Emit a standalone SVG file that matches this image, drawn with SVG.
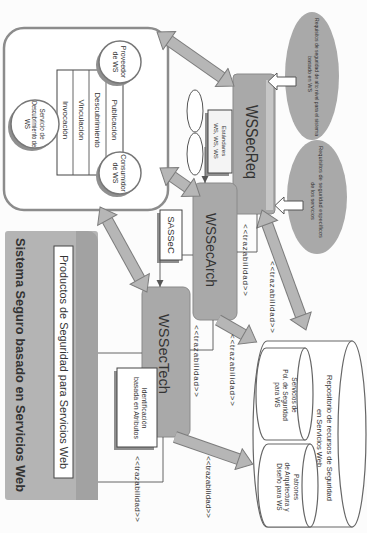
<svg xmlns="http://www.w3.org/2000/svg" width="367" height="533" viewBox="0 0 367 533">
<defs>
<style>
.t{font-family:"Liberation Sans",Arial,sans-serif;fill:#333;text-anchor:middle;dominant-baseline:central}
.box{fill:#fff;stroke:#444;stroke-width:1}
.sh{fill:#8f8f8f}
.ws{fill:#a9a9a9;stroke:#8a8a8a;stroke-width:1}
.thin{fill:none;stroke:#555;stroke-width:0.9}
.cyl{fill:#fff;stroke:#666;stroke-width:1.2}
.under{stroke:#7c7c7c;stroke-width:12;fill:none}
.over{stroke:#b6b6b6;stroke-width:10;fill:none}
.hol{fill:#fff;stroke:#555;stroke-width:1}
</style>
<marker id="bh" markerUnits="userSpaceOnUse" markerWidth="18" markerHeight="24" refX="1" refY="12" orient="auto-start-reverse" viewBox="0 0 18 24">
<path d="M1,1 L16,12 L1,23 z" fill="#b6b6b6" stroke="#7c7c7c" stroke-width="1"/>
</marker>
<marker id="sa" markerUnits="userSpaceOnUse" markerWidth="8" markerHeight="8" refX="7" refY="4" orient="auto" viewBox="0 0 8 8">
<path d="M0,0.5 L7,4 L0,7.5 z" fill="#555"/>
</marker>
</defs>
<rect width="367" height="533" fill="#fcfcfc"/>

<g id="sistema">
<rect x="5" y="231" width="93" height="269" rx="3" fill="#b4b4b4"/>
<path d="M76,231 H88 A10,10 0 0 1 98,241 V500 H76 Z" fill="#a2a2a2"/>
<text class="t" font-size="12" font-weight="bold" textLength="254" lengthAdjust="spacingAndGlyphs" transform="translate(20,365) rotate(90)">Sistema Seguro basado en Servicios Web</text>
</g>
<g id="productos">
<rect x="54" y="246" width="19" height="232" class="box"/>
<text class="t" font-size="10" textLength="214" lengthAdjust="spacingAndGlyphs" transform="translate(63.5,362) rotate(90)">Productos de Seguridad para Servicios Web</text>
</g>

<g id="entorno">
<rect x="4" y="28" width="164" height="182" rx="20" fill="#fff" stroke="#8c8c8c" stroke-width="2.5"/>
</g>
<g id="operaciones">
<rect x="57" y="70" width="66" height="105" class="box"/>
<line x1="73" y1="70" x2="73" y2="175" class="thin"/>
<line x1="89" y1="70" x2="89" y2="175" class="thin"/>
<line x1="106" y1="70" x2="106" y2="175" class="thin"/>
<text class="t" font-size="8" transform="translate(114.5,120) rotate(90)">Publicación</text>
<text class="t" font-size="8" transform="translate(97.5,120) rotate(90)">Descubrimiento</text>
<text class="t" font-size="8" transform="translate(81,120) rotate(90)">Vinculación</text>
<text class="t" font-size="8" transform="translate(65,120) rotate(90)">Invocación</text>
</g>
<g id="proveedor">
<circle cx="117" cy="65" r="21" class="sh"/>
<circle cx="120" cy="62" r="21" fill="#fff" stroke="#777" stroke-width="1.5"/>
<text class="t" font-size="7" transform="translate(120,62) rotate(90)"><tspan x="0" y="-4">Proveedor</tspan><tspan x="0" y="4">de WS</tspan></text>
</g>
<g id="consumidor">
<circle cx="117" cy="176" r="21" class="sh"/>
<circle cx="120" cy="173" r="21" fill="#fff" stroke="#777" stroke-width="1.5"/>
<text class="t" font-size="7" transform="translate(120,173) rotate(90)"><tspan x="0" y="-4">Consumidor</tspan><tspan x="0" y="4">de WS</tspan></text>
</g>
<g id="descubrimiento">
<circle cx="32" cy="127" r="24" class="sh"/>
<circle cx="35" cy="124" r="24" fill="#fff" stroke="#777" stroke-width="1.5"/>
<text class="t" font-size="6.3" transform="translate(35,124) rotate(90)"><tspan x="0" y="-7.5">Servicio de</tspan><tspan x="0" y="0" textLength="46" lengthAdjust="spacingAndGlyphs">Descubrimiento de</tspan><tspan x="0" y="7.5">WS</tspan></text>
</g>

<g id="politicas">
<ellipse cx="195" cy="111" rx="8" ry="21" fill="#fff" stroke="#555"/>
<ellipse cx="195" cy="154" rx="8" ry="21" fill="#fff" stroke="#555"/>
</g>
<g id="estandares">
<rect x="205" y="113" width="24" height="63" class="sh"/>
<rect x="208" y="110" width="24" height="63" fill="#f4f4f4" stroke="#444"/>
<text class="t" font-size="6" transform="translate(220,141) rotate(90)"><tspan x="0" y="-4">Estándares</tspan><tspan x="0" y="4">WS, WS, WS</tspan></text>
</g>

<g id="req1">
<ellipse cx="312" cy="76" rx="27" ry="64" fill="#a9a9a9"/>
<text class="t" font-size="5.5" textLength="118" lengthAdjust="spacingAndGlyphs" transform="translate(317,77) rotate(90)">Requisitos de seguridad de alto nivel para el sistema</text>
<text class="t" font-size="5.5" transform="translate(310,74) rotate(90)">basado en WS</text>
</g>
<g id="req2">
<ellipse cx="317" cy="197" rx="30" ry="57" fill="#a9a9a9"/>
<text class="t" font-size="5.5" textLength="92" lengthAdjust="spacingAndGlyphs" transform="translate(321,192) rotate(90)">Requisitos de seguridad específicos</text>
<text class="t" font-size="5.5" transform="translate(313,201) rotate(90)">de los servicios</text>
</g>

<g id="wssecreq">
<rect x="233" y="74" width="42" height="140" rx="4" class="ws"/>
<rect x="266" y="80" width="7" height="130" fill="#c6c6c6"/>
<text class="t" font-size="16" textLength="74" lengthAdjust="spacingAndGlyphs" transform="translate(251,142) rotate(90)">WSSecReq</text>
</g>
<g id="wssecarch">
<rect x="193" y="183" width="44" height="137" rx="7" class="ws"/>
<text class="t" font-size="15" textLength="74" lengthAdjust="spacingAndGlyphs" transform="translate(211,250) rotate(90)">WSSecArch</text>
</g>
<g id="sassec">
<rect x="157" y="213" width="22" height="50" class="sh"/>
<rect x="160" y="210" width="22" height="50" class="box"/>
<text class="t" font-size="9.5" transform="translate(171,235) rotate(90)">SASSeC</text>
</g>
<g id="wssectech">
<rect x="142" y="287" width="48" height="150" rx="7" class="ws"/>
<text class="t" font-size="15" textLength="80" lengthAdjust="spacingAndGlyphs" transform="translate(164,354) rotate(90)">WSSecTech</text>
</g>
<g id="identificacion">
<rect x="114" y="371" width="40" height="79" class="sh"/>
<rect x="117" y="368" width="40" height="79" class="box"/>
<text class="t" font-size="7" transform="translate(141,408) rotate(90)"><tspan x="0" y="-4">Identificación</tspan><tspan x="0" y="4">basada en Atributos</tspan></text>
</g>

<g id="repositorio">
<path d="M352,341 H267 A14,93 0 0 0 267,527 H352 Z" class="cyl"/>
<ellipse cx="352" cy="434" rx="14" ry="93" class="cyl"/>
<text class="t" font-size="7.5" transform="translate(325,438) rotate(90)"><tspan x="0" y="-5">Repositorio de recursos de Seguridad</tspan><tspan x="0" y="5">en Servicios Web</tspan></text>
</g>
<g id="recursos">
<path d="M305,348 H266 A10,46 0 0 0 266,440 H305 Z" class="cyl"/>
<ellipse cx="305" cy="394" rx="8" ry="46" class="cyl"/>
<text class="t" font-size="6.5" transform="translate(286,395) rotate(90)"><tspan x="0" y="-8.5">Servicios de</tspan><tspan x="0" y="0">Pol. de Seguridad</tspan><tspan x="0" y="8.5">para WS</tspan></text>
</g>
<g id="patrones">
<path d="M310,444 H268 A10,41.5 0 0 0 268,527 H310 Z" class="cyl"/>
<ellipse cx="310" cy="485.5" rx="8" ry="41.5" class="cyl"/>
<text class="t" font-size="6.5" transform="translate(288,487) rotate(90)"><tspan x="0" y="-8.5">Patrones</tspan><tspan x="0" y="0">de Arquitectura y</tspan><tspan x="0" y="8.5">Diseño para WS</tspan></text>
</g>

<g id="connectors">
<line x1="169.3" y1="40.6" x2="221.7" y2="77.4" class="under"/>
<line x1="169.3" y1="40.6" x2="221.7" y2="77.4" class="over" marker-start="url(#bh)" marker-end="url(#bh)"/>
<line x1="172.3" y1="176.6" x2="187.7" y2="187.4" class="under"/>
<line x1="172.3" y1="176.6" x2="187.7" y2="187.4" class="over" marker-start="url(#bh)" marker-end="url(#bh)"/>
<line x1="107.3" y1="220.1" x2="139.7" y2="278.9" class="under"/>
<line x1="107.3" y1="220.1" x2="139.7" y2="278.9" class="over" marker-start="url(#bh)" marker-end="url(#bh)"/>
<line x1="267.2" y1="224.1" x2="300.8" y2="315.9" class="under"/>
<line x1="267.2" y1="224.1" x2="300.8" y2="315.9" class="over" marker-start="url(#bh)" marker-end="url(#bh)"/>
<line x1="218" y1="320" x2="243.6" y2="334.6" class="under"/>
<line x1="218" y1="320" x2="243.6" y2="334.6" class="over" marker-end="url(#bh)"/>
<line x1="175" y1="437" x2="238.6" y2="459.2" class="under"/>
<line x1="175" y1="437" x2="238.6" y2="459.2" class="over" marker-end="url(#bh)"/>

<polygon points="296,77 277,77 277,73 268,81.5 277,90 277,86 296,86" class="hol"/>
<polygon points="303,201 284,201 284,197 275,205.5 284,214 284,210 303,210" class="hol"/>

<line x1="205" y1="147" x2="205" y2="183" class="thin" marker-end="url(#sa)"/>
<line x1="160" y1="260" x2="160" y2="287" class="thin" marker-end="url(#sa)"/>
<line x1="182" y1="255" x2="193" y2="255" class="thin"/>
<path d="M237,252 H257 V214" class="thin"/>
<path d="M190,350 H213 V320" class="thin"/>
<path d="M142,353 H98" class="thin"/>
<path d="M163,437 V482 H98" class="thin"/>

<text class="t" font-size="8" textLength="72" lengthAdjust="spacing" transform="translate(245,260) rotate(90)">&lt;&lt;trazabilidad&gt;&gt;</text>
<text class="t" font-size="8" textLength="72" lengthAdjust="spacing" transform="translate(272,297) rotate(90)">&lt;&lt;trazabilidad&gt;&gt;</text>
<text class="t" font-size="8" textLength="72" lengthAdjust="spacing" transform="translate(196,361) rotate(90)">&lt;&lt;trazabilidad&gt;&gt;</text>
<text class="t" font-size="8" textLength="72" lengthAdjust="spacing" transform="translate(232,370) rotate(90)">&lt;&lt;trazabilidad&gt;&gt;</text>
<text class="t" font-size="8" textLength="62" lengthAdjust="spacing" transform="translate(208,487) rotate(90)">&lt;&lt;trazabilidad&gt;&gt;</text>
<text class="t" font-size="8" textLength="66" lengthAdjust="spacing" transform="translate(137,489) rotate(90)">&lt;&lt;trazabilidad&gt;&gt;</text>
</g>
</svg>
